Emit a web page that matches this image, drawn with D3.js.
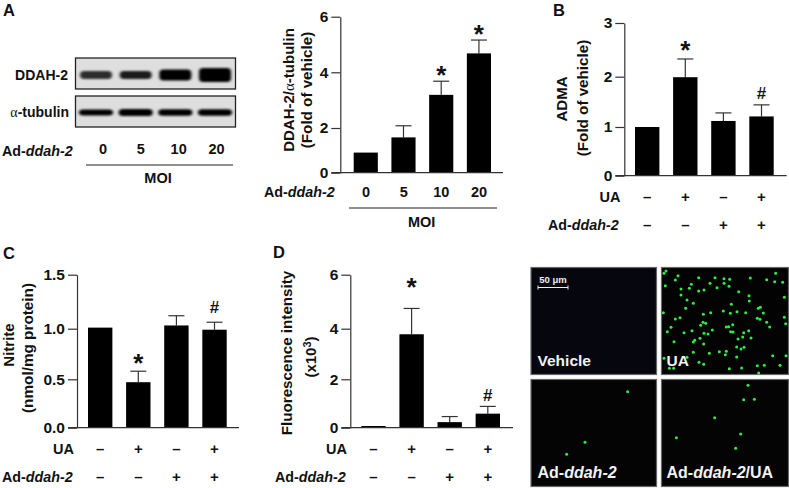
<!DOCTYPE html>
<html>
<head>
<meta charset="utf-8">
<script src="https://cdn.jsdelivr.net/npm/d3@7/dist/d3.min.js"></script>
<style>
html, body { margin: 0; padding: 0; background: #fff; }
svg { display: block; }
text { font-family: "Liberation Sans", Arial, sans-serif; font-weight: bold; fill: #111; }
</style>
</head>
<body>
<div id="chart"></div>
<script>
// Values
const moiLabels = ['0', '5', '10', '20'];
const ddahValues = [0.9, 1.58, 3.19, 4.68];
const ddahErrors = [0.9, 2.08, 3.68, 5.16];
const ddahMarks = ['', '', '*', '*'];
const ddahMarkAt = [0, 0, 4.08, 5.56];
const ddahTicks = [0, 2, 4, 6];

const admaValues = [1.0, 1.99, 1.12, 1.21];
const admaErrors = [1.0, 2.33, 1.28, 1.44];
const admaMarks = ['', '*', '', '#'];
const admaMarkAt = [0, 2.58, 0, 1.68];
const admaTicks = [0, 1, 2, 3];

const nitriteValues = [1.01, 0.47, 1.03, 0.99];
const nitriteErrors = [1.01, 0.58, 1.12, 1.06];
const nitriteMarks = ['', '*', '', '#'];
const nitriteMarkAt = [0, 0.71, 0, 1.2];
const nitriteTicks = [0, 0.5, 1.0, 1.5];

const fluorValues = [0.07, 3.78, 0.23, 0.58];
const fluorErrors = [0.07, 4.75, 0.46, 0.88];
const fluorMarks = ['', '*', '', '#'];
const fluorMarkAt = [0, 5.74, 0, 1.35];
const fluorTicks = [0, 2, 4, 6];

const uaRow = ['–', '+', '–', '+'];
const adRow = ['–', '–', '+', '+'];

// Blot band darkness per lane, and band thickness
const ddahBandDark = [0.8, 0.88, 1, 1];
const ddahBandThick = [8, 8, 11, 14];
const tubulinBandDark = [1, 1, 1, 1];
const tubulinBandThick = [6, 7, 6.5, 6.5];

// Cell positions counted in the microscope fields (field pixels x3)
const uaCells = [[18,18],[12,25],[54,32],[46,45],[16,62],[63,72],[88,70],[94,58],[116,38],[165,38],[192,41],[209,43],[271,39],[347,25],[320,44],[344,50],[368,52],[150,55],[192,55],[207,64],[171,68],[116,78],[132,75],[236,80],[267,92],[63,90],[81,105],[100,115],[77,130],[268,108],[373,97],[214,118],[10,143],[46,162],[60,158],[130,148],[152,143],[190,138],[211,145],[231,140],[257,143],[295,130],[301,127],[310,144],[292,160],[300,163],[373,157],[129,172],[122,181],[137,175],[33,187],[22,200],[72,203],[96,197],[157,195],[199,186],[206,185],[218,179],[320,172],[329,186],[377,176],[212,200],[219,201],[266,197],[251,203],[132,205],[144,207],[248,216],[273,219],[234,222],[120,220],[104,226],[100,231],[42,230],[131,237],[230,246],[252,247],[243,252],[100,262],[148,265],[178,260],[199,259],[196,269],[230,276],[338,272],[81,277],[12,280],[117,292],[131,298],[245,309],[292,302],[313,301],[360,301],[208,311],[28,310],[41,310],[296,324],[378,272]];
const adCells = [[308,395],[180,547],[125,583]];
const adUaCells = [[669,376],[656,419],[688,418],[569,473],[647,522],[454,533],[632,565]];

const svg = d3.select('#chart').append('svg')
    .attr('width', 789)
    .attr('height', 488);

const defs = svg.append('defs');
defs.append('filter').attr('id', 'bandBlur')
    .attr('x', '-20%').attr('y', '-100%').attr('width', '140%').attr('height', '300%')
    .append('feGaussianBlur').attr('stdDeviation', '1.6 1.1');
defs.append('filter').attr('id', 'cellBlur')
    .attr('x', '-100%').attr('y', '-100%').attr('width', '300%').attr('height', '300%')
    .append('feGaussianBlur').attr('stdDeviation', 0.55);

function label(x, y, str, size, anchor) {
    return svg.append('text')
        .attr('x', x).attr('y', y)
        .attr('font-size', size)
        .attr('text-anchor', anchor || 'middle')
        .text(str);
}

// "Ad-ddah-2" with the gene name in italics
function adLabel(x, y, size, fill, tail) {
    const t = svg.append('text').attr('x', x).attr('y', y).attr('font-size', size);
    if (fill) t.style('fill', fill);
    t.append('tspan').text('Ad-');
    t.append('tspan').attr('font-style', 'italic').text('ddah-2');
    if (tail) t.append('tspan').text(tail);
    return t;
}

function rotated(x, y, size) {
    return svg.append('text')
        .attr('transform', `translate(${x},${y}) rotate(-90)`)
        .attr('font-size', size)
        .attr('text-anchor', 'middle');
}

function alpha(sel) {
    return sel.append('tspan')
        .style('font-family', '"Liberation Serif", serif')
        .style('font-weight', 'normal')
        .text('α');
}

function drawBars(p) {
    const x = d3.scaleBand()
        .domain(d3.range(p.values.length))
        .range(p.xRange)
        .paddingInner(0.36)
        .paddingOuter(0);

    // the printed axes are not evenly spaced, so every tick gets its own stop
    const y = d3.scaleLinear().domain(p.ticks).range(p.yStops);

    const g = svg.append('g');
    const cx = i => x(i) + x.bandwidth() / 2;

    g.selectAll('.stem').data(p.errors).enter().append('line')
        .attr('x1', (d, i) => cx(i)).attr('x2', (d, i) => cx(i))
        .attr('y1', (d, i) => y(p.values[i])).attr('y2', d => y(d))
        .attr('stroke', '#333').attr('stroke-width', 1.2);
    g.selectAll('.cap').data(p.errors).enter().append('line')
        .attr('x1', (d, i) => cx(i) - 8).attr('x2', (d, i) => cx(i) + 8)
        .attr('y1', d => y(d)).attr('y2', d => y(d))
        .attr('stroke', '#333').attr('stroke-width', 1.2)
        .attr('display', (d, i) => d > p.values[i] ? null : 'none');

    g.selectAll('rect').data(p.values).enter().append('rect')
        .attr('x', (d, i) => x(i))
        .attr('width', x.bandwidth())
        .attr('y', d => y(d))
        .attr('height', d => y(p.ticks[0]) - y(d))
        .attr('fill', '#000');

    const axis = d3.axisLeft(y)
        .tickValues(p.ticks)
        .tickSize(9)
        .tickSizeOuter(0)
        .tickPadding(3)
        .tickFormat(p.format);
    const ax = g.append('g').attr('transform', `translate(${p.axisX},0)`).call(axis);
    ax.selectAll('line').attr('stroke', '#333').attr('stroke-width', 1.2);
    ax.select('.domain').attr('stroke', '#333').attr('stroke-width', 1.2);
    ax.selectAll('text')
        .attr('font-size', 15.5).attr('fill', '#111')
        .style('font-family', '"Liberation Sans", Arial, sans-serif');

    g.append('line')
        .attr('x1', p.axisX - 9).attr('x2', p.xEnd)
        .attr('y1', y(p.ticks[0])).attr('y2', y(p.ticks[0]))
        .attr('stroke', '#333').attr('stroke-width', 1.2);

    p.marks.forEach((m, i) => {
        if (!m) return;
        const size = m === '*' ? 26 : 17;
        const dy = m === '*' ? size * 0.53 : size * 0.36;
        label(cx(i), y(p.markAt[i]) + dy, m, size);
    });

    if (p.rows) {
        p.rows.forEach((row, r) => {
            row.forEach((s, i) => label(cx(i), p.rowY[r], s, 15));
        });
    }
    return cx;
}

// Panel A blot
function drawBlot(x0, y0, w, h, dark, thick, yCenter, bandX, bandW) {
    svg.append('rect').attr('x', x0).attr('y', y0).attr('width', w).attr('height', h)
        .attr('fill', '#dedede');
    svg.selectAll(null).data(dark).enter().append('rect')
        .attr('x', (d, i) => bandX(i) - bandW / 2)
        .attr('y', (d, i) => yCenter - thick[i] / 2)
        .attr('width', bandW)
        .attr('height', (d, i) => thick[i])
        .attr('rx', 4)
        .attr('fill', '#000')
        .attr('fill-opacity', d => d)
        .attr('filter', 'url(#bandBlur)');
    svg.append('rect').attr('x', x0).attr('y', y0).attr('width', w).attr('height', h)
        .attr('fill', 'none').attr('stroke', '#222').attr('stroke-width', 1.3);
}

const bandX = d3.scalePoint().domain(d3.range(4)).range([96, 215]);
drawBlot(75.5, 58, 160, 31, ddahBandDark, ddahBandThick, 75, bandX, 32);
drawBlot(75.5, 96, 160, 31, tubulinBandDark, tubulinBandThick, 112.5, bandX, 34);

label(68, 80, 'DDAH-2', 14, 'end');
const tub = svg.append('text').attr('x', 69).attr('y', 117).attr('font-size', 14).attr('text-anchor', 'end');
alpha(tub);
tub.append('tspan').text('-tubulin');

adLabel(2, 156, 14.3);
const blotLabelX = d3.scalePoint().domain(moiLabels).range([103, 216.5]);
moiLabels.forEach(d => label(blotLabelX(d), 154, d, 14.5));
svg.append('line').attr('x1', 86).attr('x2', 233).attr('y1', 165).attr('y2', 165)
    .attr('stroke', '#222').attr('stroke-width', 1);
label(158, 183, 'MOI', 14.5);

// Panel A chart
drawBars({
    values: ddahValues, errors: ddahErrors, marks: ddahMarks, markAt: ddahMarkAt,
    ticks: ddahTicks, yStops: [172.7, 128, 72.3, 16.7],
    xRange: [353.7, 491], axisX: 340.3, xEnd: 503, format: d3.format('d')
});
adLabel(264, 197, 14.3);
const chartLabelX = d3.scalePoint().domain(moiLabels).range([366, 479]);
moiLabels.forEach(d => label(chartLabelX(d), 197, d, 14.5));
svg.append('line').attr('x1', 349).attr('x2', 497).attr('y1', 208).attr('y2', 208)
    .attr('stroke', '#222').attr('stroke-width', 1);
label(421.7, 227, 'MOI', 14.5);
const aTitle = rotated(294, 90, 15);
aTitle.append('tspan').text('DDAH-2/');
alpha(aTitle);
aTitle.append('tspan').text('-tubulin');
rotated(312, 90, 15.2).text('(Fold of vehicle)');

// Panel B
drawBars({
    values: admaValues, errors: admaErrors, marks: admaMarks, markAt: admaMarkAt,
    ticks: admaTicks, yStops: [175.7, 127, 76.7, 23],
    xRange: [635, 773.7], axisX: 624.3, xEnd: 786.7, format: d3.format('d'),
    rows: [uaRow, adRow], rowY: [202, 230]
});
label(620.5, 202, 'UA', 14.5, 'end');
adLabel(548, 230, 14.3);
rotated(567, 99, 15).text('ADMA');
rotated(588, 98, 15.2).text('(Fold of vehicle)');

// Panel C
drawBars({
    values: nitriteValues, errors: nitriteErrors, marks: nitriteMarks, markAt: nitriteMarkAt,
    ticks: nitriteTicks, yStops: [427.7, 379.3, 328.7, 274.7],
    xRange: [88, 226.7], axisX: 77, xEnd: 239, format: d3.format('.1f'),
    rows: [uaRow, adRow], rowY: [454, 482]
});
label(74, 454, 'UA', 14.5, 'end');
adLabel(2, 482, 14.3);
rotated(14, 345, 15).text('Nitrite');
rotated(33, 348, 15.3).text('(nmol/mg protein)');

// Panel D
drawBars({
    values: fluorValues, errors: fluorErrors, marks: fluorMarks, markAt: fluorMarkAt,
    ticks: fluorTicks, yStops: [427.7, 379.3, 328.7, 274.7],
    xRange: [361.3, 500], axisX: 350.3, xEnd: 513, format: d3.format('d'),
    rows: [uaRow, adRow], rowY: [454, 482]
});
label(347, 454, 'UA', 14.5, 'end');
adLabel(275, 482, 14.3);
rotated(292, 353, 15.2).text('Fluorescence intensity');
const dSub = rotated(316, 357, 15);
dSub.append('tspan').text('(x10');
dSub.append('tspan').attr('dy', -5).attr('font-size', 11).text('3');
dSub.append('tspan').attr('dy', 5).text(')');

// Panel letters
label(3, 15.5, 'A', 16.5, 'start');
label(553, 15.5, 'B', 16.5, 'start');
label(3, 259, 'C', 16.5, 'start');
label(273, 258, 'D', 16.5, 'start');

// Microscope fields
const fields = [
    { x: 531, y: 267.5, w: 125.5, h: 107, fill: '#06060f', cells: [] },
    { x: 661.5, y: 267.5, w: 127, h: 107, fill: '#030303', cells: uaCells.map(d => [d[0] / 3 + 135, d[1] / 3 + 5]) },
    { x: 531, y: 379.5, w: 125.5, h: 107, fill: '#040404', cells: adCells.map(d => [d[0] / 3, d[1] / 3]) },
    { x: 661.5, y: 379.5, w: 127, h: 107, fill: '#040404', cells: adUaCells.map(d => [d[0] / 3, d[1] / 3]) }
];
// cell lists are in crop pixels; these scales carry them onto the page
const cellX = d3.scaleLinear().domain([0, 264]).range([525, 789]);
const cellY = d3.scaleLinear().domain([0, 228]).range([260, 488]);

fields.forEach(f => {
    svg.append('rect').attr('x', f.x).attr('y', f.y).attr('width', f.w).attr('height', f.h)
        .attr('fill', f.fill).attr('stroke', '#666').attr('stroke-width', 1.2);
    svg.selectAll(null).data(f.cells).enter().append('circle')
        .attr('cx', d => cellX(d[0]))
        .attr('cy', d => cellY(d[1]))
        .attr('r', 1.5)
        .attr('fill', '#2cf044')
        .attr('filter', 'url(#cellBlur)');
});

label(537.5, 366, 'Vehicle', 15.5, 'start').style('fill', '#f2f2f2');
label(666.5, 366, 'UA', 15.5, 'start').style('fill', '#f2f2f2');
adLabel(537.5, 478, 16, '#f2f2f2');
adLabel(666.5, 478, 16, '#f2f2f2', '/UA');

// Scale bar
const bar = svg.append('g').attr('stroke', '#eee').attr('stroke-width', 1);
bar.append('line').attr('x1', 538).attr('x2', 568).attr('y1', 287.5).attr('y2', 287.5);
bar.append('line').attr('x1', 538).attr('x2', 538).attr('y1', 285.5).attr('y2', 289.5);
bar.append('line').attr('x1', 568).attr('x2', 568).attr('y1', 285.5).attr('y2', 289.5);
const scaleText = label(553, 283, '50 ', 9.5).style('fill', '#eee');
scaleText.append('tspan').style('fill', '#eee').text('μm');
</script>
</body>
</html>
